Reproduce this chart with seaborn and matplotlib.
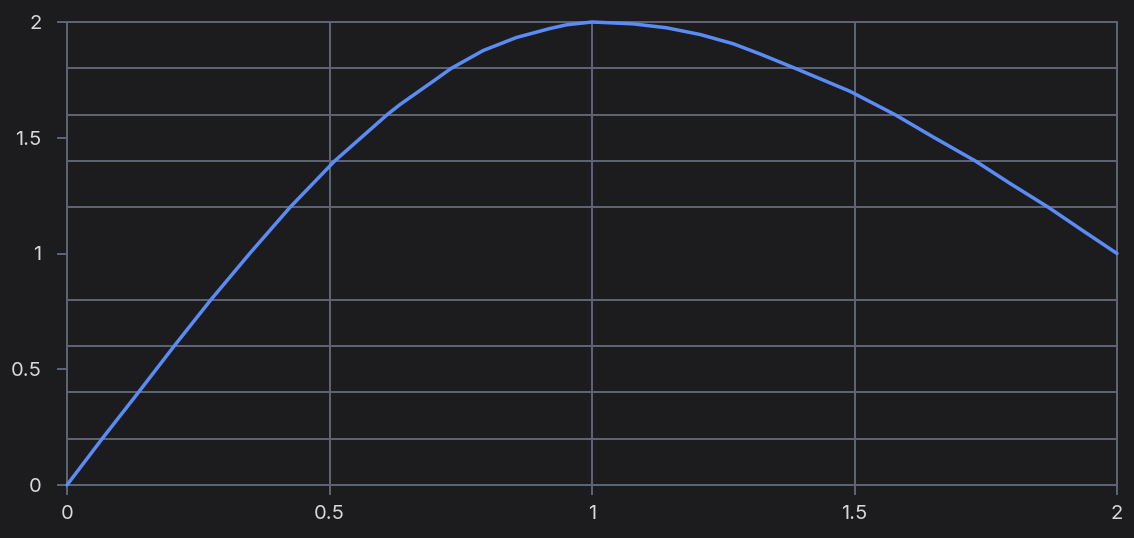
import pandas as pd
import seaborn as sns
import matplotlib.pyplot as plt

# values
x_vals = [0, 0.067, 0.136, 0.204, 0.274, 0.348, 0.425, 0.510, 0.610, 0.634,
          0.698, 0.732, 0.793, 0.856, 0.920, 0.952, 1.0, 1.078, 1.142, 1.206,
          1.269, 1.320, 1.387, 1.491, 1.577, 1.650, 1.730, 1.796, 1.869, 1.936, 2.0]
y_vals = [0, 0.2, 0.4, 0.6, 0.8, 1.0, 1.2, 1.4, 1.6, 1.643,
          1.745, 1.8, 1.877, 1.933, 1.972, 1.988, 2.0, 1.992, 1.975, 1.946,
          1.906, 1.862, 1.8, 1.701, 1.6, 1.503, 1.4, 1.303, 1.2, 1.097, 1.0]

x_ticks = [0, 0.5, 1, 1.5, 2]
x_tick_labels = ["0", "0.5", "1", "1.5", "2"]
y_ticks = [0, 0.5, 1, 1.5, 2]
y_tick_labels = ["0", "0.5", "1", "1.5", "2"]
y_grid = [0, 0.2, 0.4, 0.6, 0.8, 1.0, 1.2, 1.4, 1.6, 1.8, 2.0]

bg = "#1c1c1f"
grid_col = "#5f6575"
line_col = "#5b8cf6"
text_col = "#d8d8da"

sns.set_theme(style="dark", rc={"axes.facecolor": bg, "figure.facecolor": bg})
plt.rcParams["font.family"] = ["Inter", "DejaVu Sans"]

fig = plt.figure(figsize=(11.34, 5.38), dpi=100)
ax = fig.add_axes([67 / 1134, 53 / 538, 1050 / 1134, 463 / 538])

df = pd.DataFrame({"x": x_vals, "y": y_vals})
sns.lineplot(data=df, x="x", y="y", ax=ax, color=line_col, linewidth=2.5,
             sort=False, clip_on=False, zorder=3)

ax.set_xlim(0, 2)
ax.set_ylim(0, 2)
ax.set_xticks(x_ticks, x_tick_labels)
ax.set_yticks(y_ticks, y_tick_labels)
ax.set_yticks(y_grid, minor=True)
ax.set_xlabel("")
ax.set_ylabel("")

ax.grid(False)
ax.grid(True, axis="x", which="major", color=grid_col, linewidth=1.4)
ax.grid(True, axis="y", which="minor", color=grid_col, linewidth=1.4)

ax.tick_params(axis="both", which="major", bottom=True, left=True, length=7.5,
               width=1.4, color=grid_col, labelcolor=text_col, labelsize=14.5)
ax.tick_params(axis="x", which="major", pad=7)
ax.tick_params(axis="y", which="major", pad=11)
ax.tick_params(which="minor", length=0, left=False, bottom=False)

for s in ax.spines.values():
    s.set_visible(True)
    s.set_color(grid_col)
    s.set_linewidth(1.4)

fig.savefig("out.png", dpi=100, facecolor=bg)
